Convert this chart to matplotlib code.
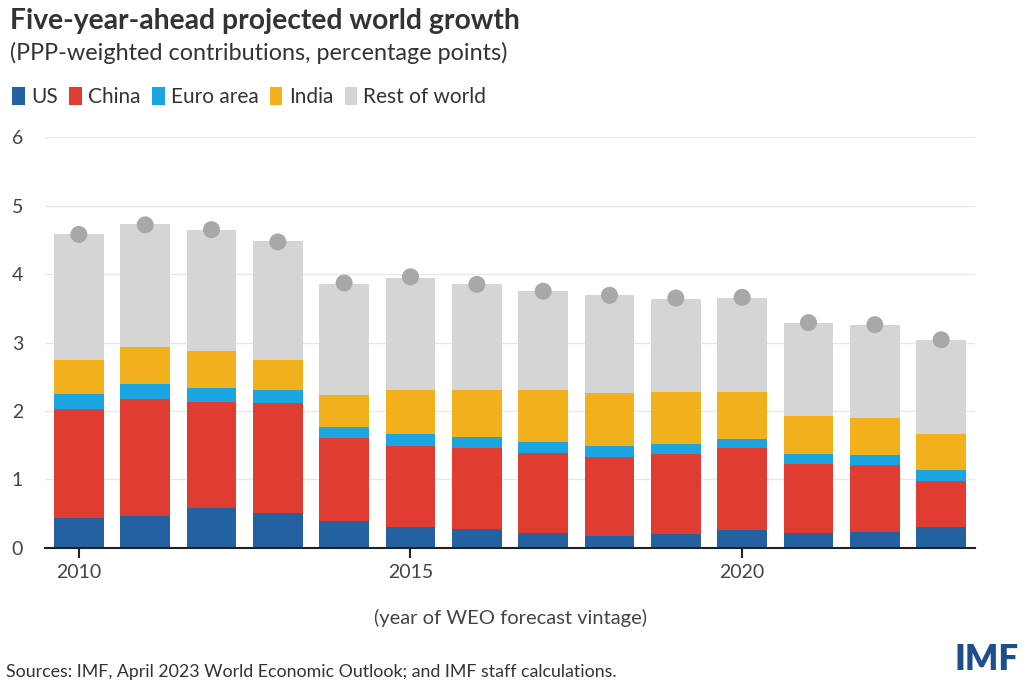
import numpy as np
import matplotlib.pyplot as plt
from matplotlib.patches import Patch

years = np.arange(2010, 2024)
us_top = [0.43, 0.47, 0.585, 0.51, 0.395, 0.30, 0.28, 0.22, 0.175, 0.20, 0.26, 0.22, 0.23, 0.30]
china_top = [2.03, 2.18, 2.13, 2.12, 1.60, 1.49, 1.46, 1.39, 1.33, 1.37, 1.46, 1.22, 1.21, 0.98]
euro_top = [2.25, 2.39, 2.33, 2.30, 1.77, 1.66, 1.62, 1.545, 1.48, 1.52, 1.59, 1.365, 1.36, 1.135]
india_top = [2.74, 2.94, 2.88, 2.74, 2.23, 2.31, 2.31, 2.30, 2.26, 2.28, 2.28, 1.92, 1.90, 1.66]
total = [4.58, 4.73, 4.65, 4.48, 3.86, 3.95, 3.85, 3.75, 3.69, 3.64, 3.65, 3.29, 3.26, 3.04]
world_growth = [4.58, 4.72, 4.65, 4.47, 3.87, 3.96, 3.85, 3.75, 3.69, 3.65, 3.66, 3.29, 3.26, 3.04]

names = ['US', 'China', 'Euro area', 'India', 'Rest of world']
colors = ['#2461a0', '#e03c32', '#1ba6e1', '#f2b01c', '#d5d5d5']

tops = np.array([us_top, china_top, euro_top, india_top, total])
parts = np.diff(np.vstack([np.zeros(len(years)), tops]), axis=0)

plt.rcParams['font.family'] = ['Lato', 'DejaVu Sans']
txt = '#333333'
tick_txt = '#444444'

fig = plt.figure(figsize=(10.27, 6.96), dpi=100)
ax = fig.add_axes([45 / 1027, 1 - 547.7 / 696, 930 / 1027, 410.4 / 696])

bottom = np.zeros(len(years))
for vals, c in zip(parts, colors):
    ax.bar(years, vals, bottom=bottom, width=0.75, color=c, zorder=2)
    bottom += vals

ax.scatter(years, world_growth, s=150, color='#a8a8a8', zorder=3, edgecolor='none')

ax.set_xlim(2009.49, 2023.51)
ax.set_ylim(0, 6)
ax.set_yticks(range(7))
ax.set_xticks([2010, 2015, 2020])
ax.grid(axis='y', color='#e8e8e8', linewidth=1, zorder=0)
for s in ['top', 'right', 'left']:
    ax.spines[s].set_visible(False)
ax.spines['bottom'].set_color('#222222')
ax.spines['bottom'].set_linewidth(1.5)
ax.spines['bottom'].set_zorder(4)
ax.tick_params(axis='y', length=0, pad=24, labelsize=14, labelcolor=tick_txt)
ax.tick_params(axis='x', length=7, width=1.5, color='#222222', labelsize=14,
               labelcolor=tick_txt, pad=5)
for lab in ax.get_yticklabels():
    lab.set_horizontalalignment('left')
ax.set_xlabel('(year of WEO forecast vintage)', fontsize=14.5, color=tick_txt, labelpad=20)

fig.text(10 / 1027, 1 - 21 / 696, 'Five-year-ahead projected world growth',
         fontsize=20.3, fontweight='bold', color=txt, va='center')
fig.text(10 / 1027, 1 - 53 / 696, '(PPP-weighted contributions, percentage points)',
         fontsize=16.8, color=txt, va='center')

handles = [Patch(facecolor=c, edgecolor='none', label=n) for n, c in zip(names, colors)]
leg = fig.legend(handles=handles, loc='center left', bbox_to_anchor=(4 / 1027, 1 - 97 / 696),
                 ncol=5, frameon=False, fontsize=15, handlelength=0.6, handleheight=1.0,
                 handletextpad=0.3, columnspacing=0.55, borderaxespad=0)
for t in leg.get_texts():
    t.set_color(txt)

fig.text(6 / 1027, 1 - 672 / 696,
         'Sources: IMF, April 2023 World Economic Outlook; and IMF staff calculations.',
         fontsize=12.8, color=txt, va='center')
fig.text(1019 / 1027, 1 - 660 / 696, 'IMF', fontsize=25, fontweight='heavy',
         color='#1f4e8c', ha='right', va='center')

fig.savefig('out.png', dpi=100)
